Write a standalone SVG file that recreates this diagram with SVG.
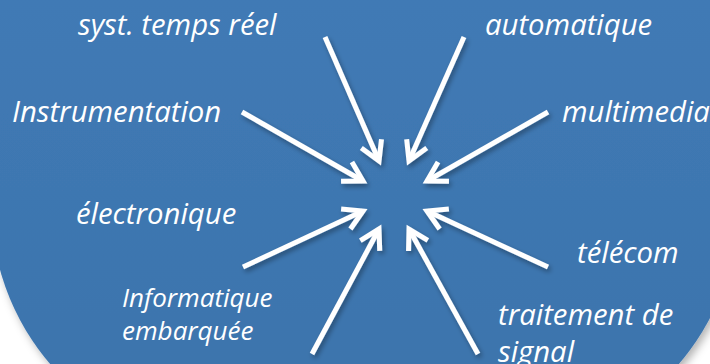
<svg xmlns="http://www.w3.org/2000/svg" width="710" height="364" viewBox="0 0 710 364">
  <defs>
    <linearGradient id="bg" x1="0" y1="0" x2="0" y2="1">
      <stop offset="0" stop-color="#4580BE"/>
      <stop offset="1" stop-color="#3B73AB"/>
    </linearGradient>
    <filter id="shadow" x="-10%" y="-10%" width="130%" height="130%">
      <feDropShadow dx="2" dy="3" stdDeviation="2.5" flood-color="#000" flood-opacity="0.35"/>
    </filter>
    <filter id="bgshadow" x="-10%" y="-10%" width="130%" height="130%">
      <feDropShadow dx="3" dy="4" stdDeviation="4" flood-color="#000" flood-opacity="0.3"/>
    </filter>
    <marker id="ah" markerUnits="userSpaceOnUse" viewBox="-30 -20 40 40" refX="0" refY="0" markerWidth="40" markerHeight="40" orient="auto">
      <path d="M-19,-11 L0,0 L-19,11" fill="none" stroke="#fff" stroke-width="5" stroke-linecap="butt" stroke-linejoin="miter"/>
    </marker>
  </defs>
  <style>
    .lbl { font-family: "Open Sans", "Liberation Sans", sans-serif; font-style: italic; fill: #fff; font-size: 29.3px; }
    .sm { font-size: 26px; }
    .arr { stroke: #fff; stroke-width: 5; fill: none; marker-end: url(#ah); }
  </style>
  <rect width="710" height="364" fill="#fff"/>
  <rect id="background" x="-9" y="-400" width="747" height="850" rx="246" ry="246" fill="url(#bg)" filter="url(#bgshadow)"/>
  <g id="connectors" filter="url(#shadow)">
    <line class="arr" x1="325" y1="37" x2="379" y2="161"/>
    <line class="arr" x1="464" y1="37" x2="409" y2="161"/>
    <line class="arr" x1="242" y1="112" x2="363" y2="181"/>
    <line class="arr" x1="548" y1="112" x2="427" y2="181"/>
    <line class="arr" x1="243" y1="267" x2="363" y2="211"/>
    <line class="arr" x1="548" y1="267" x2="427" y2="211"/>
    <line class="arr" x1="312" y1="354" x2="379" y2="229"/>
    <line class="arr" x1="478" y1="354" x2="409" y2="229"/>
  </g>
  <g id="n-systemps"><text class="lbl" x="78" y="35">syst. temps réel</text></g>
  <g id="n-automatique"><text class="lbl" x="485" y="35">automatique</text></g>
  <g id="n-instrumentation"><text class="lbl" x="12" y="122">Instrumentation</text></g>
  <g id="n-multimedia"><text class="lbl" x="562" y="122">multimedia</text></g>
  <g id="n-electronique"><text class="lbl" x="76" y="224">électronique</text></g>
  <g id="n-telecom"><text class="lbl" x="577" y="263">télécom</text></g>
  <g id="n-informatique"><text class="lbl sm" x="122" y="307">Informatique</text><text class="lbl sm" x="122" y="340">embarquée</text></g>
  <g id="n-traitement"><text class="lbl" x="498" y="325">traitement de</text><text class="lbl" x="498" y="362">signal</text></g>
</svg>
